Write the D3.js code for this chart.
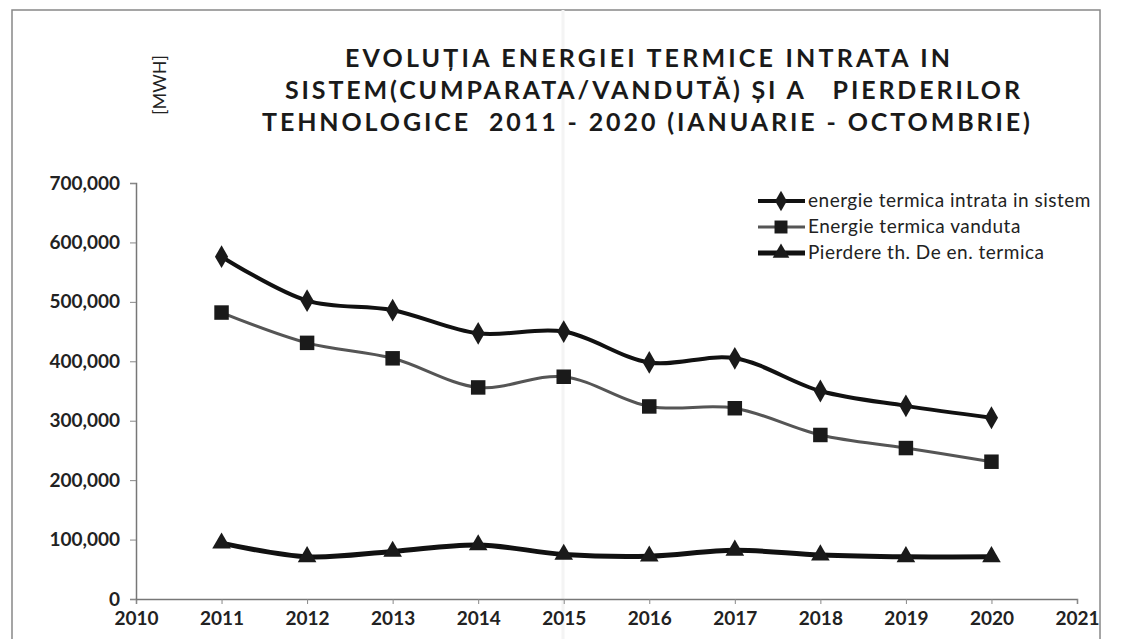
<!DOCTYPE html>
<html>
<head>
<meta charset="utf-8">
<script src="https://cdn.jsdelivr.net/npm/d3@7"></script>
<style>
  body { margin: 0; background: #fff; }
  svg { display: block; font-family: Lato, "Open Sans", sans-serif; }
</style>
</head>
<body>
<div id="chart"></div>
<script>
// data
var years = [2011, 2012, 2013, 2014, 2015, 2016, 2017, 2018, 2019, 2020];
var intrata = [576000, 502000, 486000, 447000, 450000, 398000, 405000, 350000, 325000, 305000];
var vanduta = [482000, 431000, 405000, 356000, 374000, 324000, 321000, 276000, 254000, 231000];
var pierdere = [94000, 71000, 80000, 91000, 75000, 72000, 82000, 74000, 71000, 71000];
var seriesNames = ["energie termica intrata in sistem", "Energie termica vanduta", "Pierdere th. De en. termica"];
var yTicks = [0, 100000, 200000, 300000, 400000, 500000, 600000, 700000];
var titleLines = ["EVOLUȚIA ENERGIEI TERMICE INTRATA IN",
                  "SISTEM(CUMPARATA/VANDUTĂ) ȘI A   PIERDERILOR",
                  "TEHNOLOGICE  2011 - 2020 (IANUARIE - OCTOMBRIE)"];

var W = 1142, H = 639;
var svg = d3.select("#chart").append("svg")
    .attr("width", W).attr("height", H);

// scanned page frame
svg.append("rect")
    .attr("x", 12).attr("y", 10).attr("width", 1088).attr("height", 650)
    .attr("fill", "none").attr("stroke", "#888").attr("stroke-width", 1.5);
// faint fold of the scan
svg.append("line")
    .attr("x1", 563).attr("x2", 563).attr("y1", 10).attr("y2", 639)
    .attr("stroke", "#f4f4f4").attr("stroke-width", 3);

var x = d3.scaleLinear().domain([2010, 2021]).range([136, 1077]);
var y = d3.scaleLinear().domain([0, 700000]).range([599, 183]);

// axes
var xAxis = svg.append("g")
    .attr("transform", "translate(0,599)")
    .call(d3.axisBottom(x).tickValues(d3.range(2010, 2022)).tickFormat(d3.format("d")).tickSize(5).tickPadding(8));
var yAxis = svg.append("g")
    .attr("transform", "translate(136,0)")
    .call(d3.axisLeft(y).tickValues(yTicks).tickFormat(d3.format(",")).tickSize(6).tickPadding(10));

[xAxis, yAxis].forEach(function(a) {
  a.select(".domain").attr("stroke", "#777").attr("stroke-width", 1.5);
  a.selectAll(".tick line").attr("stroke", "#888");
  a.selectAll(".tick text")
    .attr("fill", "#222")
    .style("font-size", "19px")
    .style("font-weight", "700")
    .style("font-family", "Lato, sans-serif");
});

// title
var titleSpan = [[345, 950], [285, 1020], [262, 1030]];
svg.append("g").selectAll("text")
  .data(titleLines)
  .enter()
  .append("text")
    .attr("x", function(d, i) { return titleSpan[i][0]; })
    .attr("y", function(d, i) { return 67 + i * 32; })
    .attr("textLength", function(d, i) { return titleSpan[i][1] - titleSpan[i][0]; })
    .attr("lengthAdjust", "spacing")
    .style("font-size", "25px")
    .style("font-weight", "700")
    .style("white-space", "pre")
    .attr("fill", "#1a1a1a")
    .text(function(d) { return d; });

// unit label
svg.append("text")
    .attr("transform", "translate(166,85) rotate(-90)")
    .attr("text-anchor", "middle")
    .style("font-size", "18px")
    .attr("fill", "#222")
    .text("[MWH]");

var line = d3.line()
    .x(function(d) { return x(d.x); })
    .y(function(d) { return y(d.y); })
    .curve(d3.curveCatmullRom.alpha(0.5));

function pts(vals) { return years.map(function(yr, i) { return {x: yr, y: vals[i]}; }); }

var series = [
  {vals: intrata, color: "#111", width: 4, symbol: d3.symbolDiamond, size: 150},
  {vals: vanduta, color: "#555", width: 3, symbol: d3.symbolSquare, size: 210},
  {vals: pierdere, color: "#111", width: 5, symbol: d3.symbolTriangle, size: 150}
];

series.forEach(function(s) {
  svg.append("path")
    .datum(pts(s.vals))
    .attr("fill", "none")
    .attr("stroke", s.color)
    .attr("stroke-width", s.width)
    .attr("d", line);
  svg.append("g").selectAll("path")
    .data(pts(s.vals))
    .enter()
    .append("path")
      .attr("transform", function(d) { return "translate(" + x(d.x) + "," + y(d.y) + ")"; })
      .attr("d", d3.symbol().type(s.symbol).size(s.size))
      .attr("fill", "#1a1a1a");
});

// legend
var legend = svg.append("g");
series.forEach(function(s, i) {
  var ly = 201 + i * 26;
  legend.append("line")
    .attr("x1", 758).attr("x2", 805).attr("y1", ly).attr("y2", ly)
    .attr("stroke", s.color).attr("stroke-width", s.width);
  legend.append("path")
    .attr("transform", "translate(781," + ly + ")")
    .attr("d", d3.symbol().type(s.symbol).size(s.size * 0.8))
    .attr("fill", "#1a1a1a");
  legend.append("text")
    .attr("x", 808).attr("y", ly + 6)
    .style("font-size", "19px")
    .style("letter-spacing", "0.5px")
    .attr("fill", "#222")
    .text(seriesNames[i]);
});
</script>
</body>
</html>
